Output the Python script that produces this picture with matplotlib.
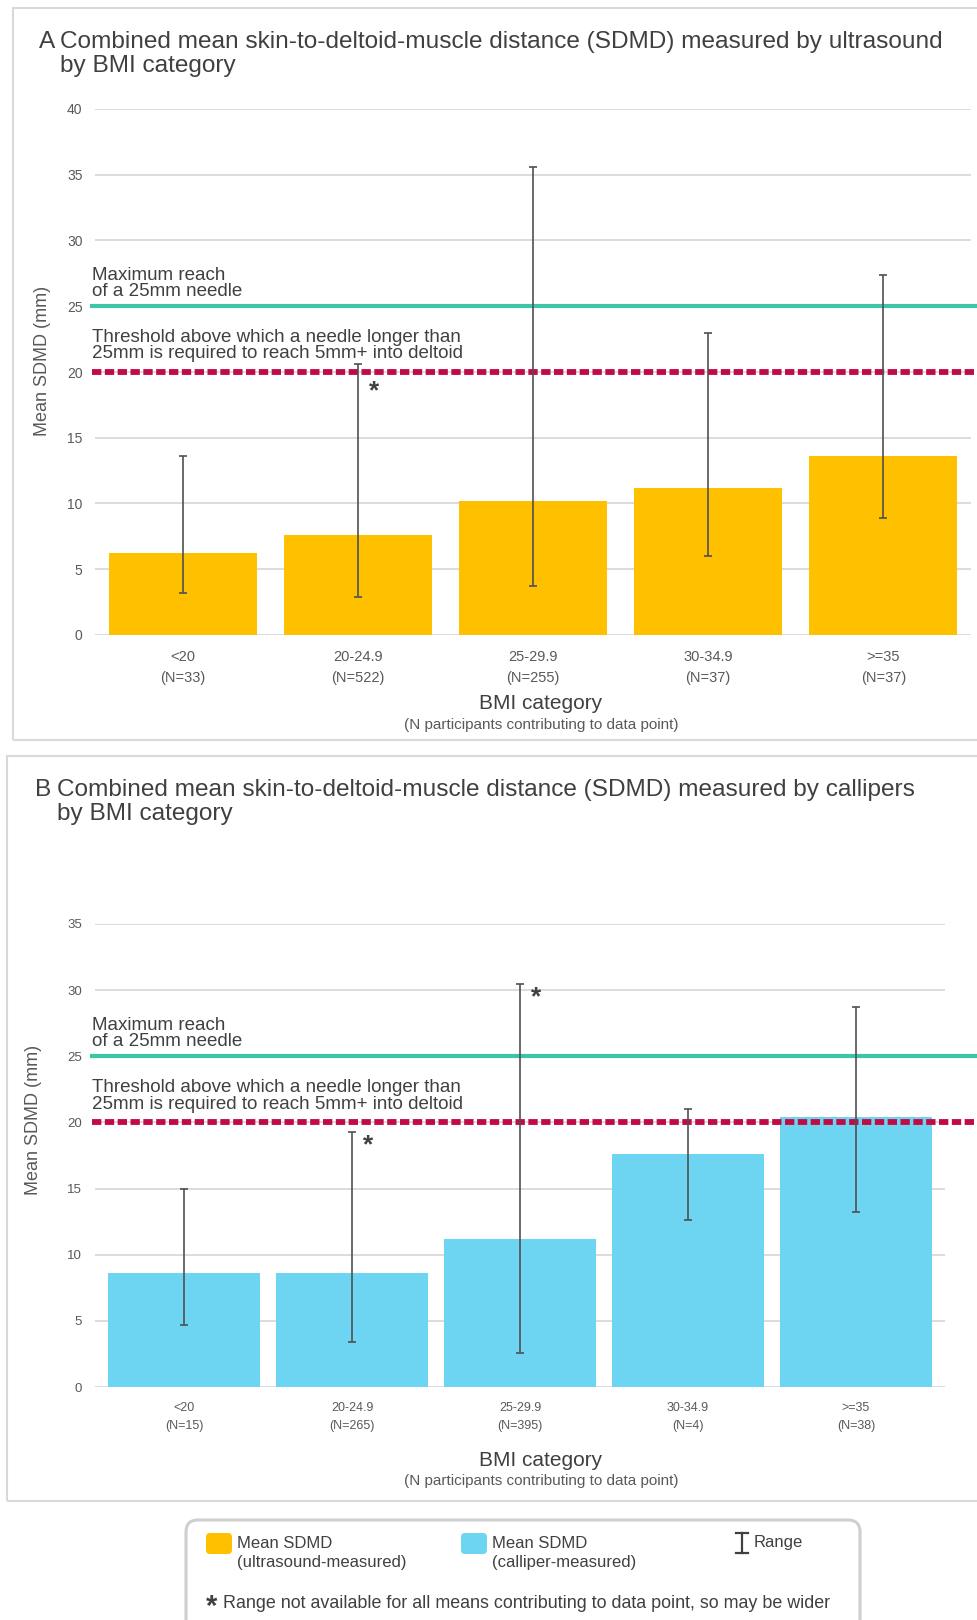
import matplotlib.pyplot as plt
from matplotlib.patches import Rectangle, FancyBboxPatch
from matplotlib.lines import Line2D
from matplotlib.transforms import blended_transform_factory

plt.rcParams["font.family"] = ["Liberation Sans", "DejaVu Sans"]

# canvas size in pixels (dpi 100)
W, H = 978, 1620

bmi_categories = ["<20", "20-24.9", "25-29.9", "30-34.9", ">=35"]

# ultrasound-measured SDMD (mm)
us_n = [33, 522, 255, 37, 37]
us_mean = [6.2, 7.6, 10.2, 11.2, 13.6]
us_low = [3.2, 2.9, 3.7, 6.0, 8.9]
us_high = [13.6, 20.6, 35.6, 23.0, 27.4]
us_partial_range = [False, True, False, False, False]

# calliper-measured SDMD (mm)
cal_n = [15, 265, 395, 4, 38]
cal_mean = [8.6, 8.6, 11.2, 17.6, 20.4]
cal_low = [4.7, 3.4, 2.6, 12.6, 13.2]
cal_high = [15.0, 19.3, 30.5, 21.0, 28.7]
cal_partial_range = [False, True, True, False, False]

needle_reach = 25
needle_threshold = 20

US_COLOR = "#FFC000"
CAL_COLOR = "#6DD4F2"
REACH_COLOR = "#3EC4A6"
THRESH_COLOR = "#C00B45"
ERR_COLOR = "#505050"
TEXT_DARK = "#404040"
TEXT_GRAY = "#595959"
GRID_COLOR = "#D9D9D9"


def px_axes(fig, left, top, right, bottom):
    return fig.add_axes([left / W, 1 - bottom / H, (right - left) / W, (bottom - top) / H])


def inch(x, y):
    # pixel position (top-left origin) -> inches for dpi_scale_trans
    return x / 100, (H - y) / 100


def draw_panel(ax, means, lows, highs, ns, partial, color, ymax, bar_width,
               xlim, tick_size, ytick_size, tick_pad, ytick_pad, star_drop):
    x = list(range(len(bmi_categories)))
    ax.bar(x, means, width=bar_width, color=color, zorder=2)
    yerr = [[m - lo for m, lo in zip(means, lows)],
            [hi - m for m, hi in zip(means, highs)]]
    ax.errorbar(x, means, yerr=yerr, fmt="none", ecolor=ERR_COLOR,
                elinewidth=1.2, capsize=3, capthick=1.2, zorder=5)

    ax.set_xlim(*xlim)
    ax.set_ylim(0, ymax)
    ax.set_yticks(range(0, ymax + 1, 5))
    ax.set_xticks(x)
    ax.set_xticklabels([f"{c}\n(N={n})" for c, n in zip(bmi_categories, ns)],
                       fontsize=tick_size, linespacing=1.6)
    ax.tick_params(axis="x", length=0, pad=tick_pad, colors=TEXT_GRAY)
    ax.tick_params(axis="y", length=0, pad=ytick_pad, colors=TEXT_GRAY,
                   labelsize=ytick_size)
    ax.yaxis.grid(True, color=GRID_COLOR, linewidth=1.3)
    ax.set_axisbelow(True)
    for s in ax.spines.values():
        s.set_visible(False)

    # needle reference lines run on to the right edge of the page
    pos = ax.get_position()
    xmax = (1 - pos.x0) / pos.width
    xmin = -3 / (pos.width * W)
    ax.axhline(needle_reach, xmin=xmin, xmax=xmax, color=REACH_COLOR,
               linewidth=3.0, clip_on=False, zorder=3)
    ax.axhline(needle_threshold, xmin=xmin, xmax=xmax, color=THRESH_COLOR,
               linewidth=4.2, linestyle=(0, (1.6, 0.6)), dash_capstyle="butt",
               clip_on=False, zorder=3)

    trans = blended_transform_factory(ax.transAxes, ax.transData)
    ax.annotate("Maximum reach\nof a 25mm needle", xy=(xmin, needle_reach),
                xycoords=trans, xytext=(0, 4.5), textcoords="offset points",
                ha="left", va="bottom", fontsize=13.5, linespacing=0.95,
                color=TEXT_DARK)
    ax.annotate("Threshold above which a needle longer than\n"
                "25mm is required to reach 5mm+ into deltoid",
                xy=(xmin, needle_threshold), xycoords=trans, xytext=(0, 7),
                textcoords="offset points", ha="left", va="bottom",
                fontsize=13.5, linespacing=0.95, color=TEXT_DARK)

    # asterisk where the range is incomplete
    for i, flag in enumerate(partial):
        if flag:
            ax.annotate("*", xy=(i, highs[i]), xytext=(8, -star_drop),
                        textcoords="offset points", ha="left", va="top",
                        fontsize=19, fontweight="bold", color=TEXT_DARK,
                        zorder=6)


def panel_title(letter, x_letter, x_text, y_top, text):
    fig.text(x_letter / W, 1 - y_top / H, letter, fontsize=17.6,
             color=TEXT_DARK, va="top")
    fig.text(x_text / W, 1 - y_top / H, text, fontsize=17.6, color=TEXT_DARK,
             va="top", linespacing=1.12)


fig = plt.figure(figsize=(W / 100, H / 100), dpi=100)
inches = fig.dpi_scale_trans

# panel frames
for (l, t, r, b) in [(13, 8, 995, 740), (7, 756, 995, 1501)]:
    fig.patches.append(Rectangle(inch(l, b), (r - l) / 100, (b - t) / 100,
                                 transform=inches, fill=False,
                                 edgecolor=GRID_COLOR, linewidth=1.5))

# panel A
ax_a = px_axes(fig, 95, 109, 971, 635)
draw_panel(ax_a, us_mean, us_low, us_high, us_n, us_partial_range, US_COLOR,
           40, 0.845, (-0.5, 4.5), 10.5, 10, 11, 9, 11)
panel_title("A", 39, 60, 31,
            "Combined mean skin-to-deltoid-muscle distance (SDMD) measured by ultrasound\n"
            "by BMI category")
fig.text(43 / W, 1 - 361 / H, "Mean SDMD (mm)", rotation=90, fontsize=13,
         color=TEXT_GRAY, ha="center", va="center")
fig.text(541 / W, 1 - 703 / H, "BMI category", fontsize=15, color=TEXT_DARK,
         ha="center", va="center")
fig.text(541 / W, 1 - 725 / H, "(N participants contributing to data point)",
         fontsize=11, color=TEXT_GRAY, ha="center", va="center")

# panel B
ax_b = px_axes(fig, 95, 924, 945, 1387)
draw_panel(ax_b, cal_mean, cal_low, cal_high, cal_n, cal_partial_range, CAL_COLOR,
           35, 0.9, (-0.53, 4.53), 9, 9.5, 11, 9.5, 1)
panel_title("B", 35, 57, 779,
            "Combined mean skin-to-deltoid-muscle distance (SDMD) measured by callipers\n"
            "by BMI category")
fig.text(34 / W, 1 - 1120 / H, "Mean SDMD (mm)", rotation=90, fontsize=13,
         color=TEXT_GRAY, ha="center", va="center")
fig.text(541 / W, 1 - 1460 / H, "BMI category", fontsize=15, color=TEXT_DARK,
         ha="center", va="center")
fig.text(541 / W, 1 - 1481 / H, "(N participants contributing to data point)",
         fontsize=11, color=TEXT_GRAY, ha="center", va="center")

# key box
fig.patches.append(FancyBboxPatch(inch(186, 1660), 6.74, 1.40,
                                  boxstyle="round,pad=0,rounding_size=0.12",
                                  transform=inches, fill=False,
                                  edgecolor="#CFCFCF", linewidth=2.2))
for (x0, c) in [(206, US_COLOR), (461, CAL_COLOR)]:
    fig.patches.append(FancyBboxPatch(inch(x0, 1554), 0.26, 0.21,
                                      boxstyle="round,pad=0,rounding_size=0.04",
                                      transform=inches, facecolor=c,
                                      edgecolor="none"))
fig.text(237 / W, 1 - 1553 / H, "Mean SDMD\n(ultrasound-measured)", fontsize=12,
         color=TEXT_DARK, va="center", linespacing=1.3)
fig.text(492 / W, 1 - 1553 / H, "Mean SDMD\n(calliper-measured)", fontsize=12,
         color=TEXT_DARK, va="center", linespacing=1.3)

# range symbol
for xs, ys in [([742, 742], [1533, 1553]), ([736, 748], [1533, 1533]),
               ([736, 748], [1553, 1553])]:
    fig.lines.append(Line2D([x / 100 for x in xs], [(H - y) / 100 for y in ys],
                            transform=inches, color=TEXT_DARK, linewidth=1.6))
fig.text(754 / W, 1 - 1542 / H, "Range", fontsize=12, color=TEXT_DARK,
         va="center")

fig.text(206 / W, 1 - 1607 / H, "*", fontsize=21, fontweight="bold",
         color=TEXT_DARK, va="center")
fig.text(223 / W, 1 - 1603 / H,
         "Range not available for all means contributing to data point, so may be wider",
         fontsize=12.9, color=TEXT_DARK, va="center")

fig.savefig("out.png", dpi=100)
